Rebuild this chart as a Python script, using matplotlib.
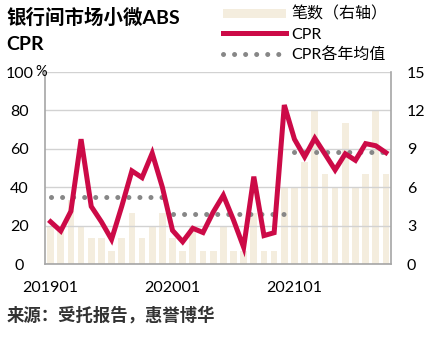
import numpy as np
import matplotlib
matplotlib.use("Agg")
import matplotlib.pyplot as plt
from matplotlib.patches import Patch
from matplotlib.lines import Line2D

plt.rcParams['font.family'] = ['Lato', 'Noto Sans CJK SC', 'DejaVu Sans']

# monthly data 201901 - 202110
months = [f"{y}{m:02d}" for y in (2019, 2020, 2021) for m in range(1, 13)][:34]
deal_counts = [3, 3, 5, 3, 2, 2, 1, 2, 4, 2, 3, 4,
               2, 1, 3, 1, 1, 3, 1, 1, 4, 1, 1, 6,
               6, 8, 12, 7, 6, 11, 6, 7, 12, 7]
cpr = [22, 17.2, 27.5, 65, 30, 22, 12.8, 30, 48.5, 45, 57.7, 40,
       17.5, 11.6, 18.6, 16.4, 27, 35.8, 22.9, 8.7, 45.5, 14.8, 16.3, 82.8,
       65, 55.8, 65.5, 57.3, 49, 57.4, 54, 62.7, 61.6, 58]
year_avg = [35, 26, 58.1]
year_span = [(0, 11), (12, 23), (24, 33)]
xtick_labels = ['201901', '202001', '202101']

RED = '#CC0A47'
BEIGE = '#F4EDDE'
GRAY_DOT = '#878787'
DOTS = (0, (0.01, 2.2))

fig = plt.figure(figsize=(4.36, 3.39), dpi=100)
ax = fig.add_axes([0.1032, 0.2212, 0.7936, 0.5664])
ax2 = ax.twinx()
ax.set_zorder(ax2.get_zorder() + 1)
ax.patch.set_visible(False)

x = np.arange(len(months))
ax2.bar(x, deal_counts, width=0.66, color=BEIGE, zorder=1)
ax2.set_ylim(0, 15)
ax2.set_yticks([0, 3, 6, 9, 12, 15])

ax.plot(x, cpr, color=RED, lw=3.6, solid_joinstyle='miter', zorder=4)
for avg, (a, b) in zip(year_avg, year_span):
    ax.plot([a, b], [avg, avg], color=GRAY_DOT, lw=3.6,
            linestyle=DOTS, dash_capstyle='round', zorder=3)

ax.set_xlim(-0.55, 33.5)
ax.set_ylim(0, 100)
ax.set_yticks([0, 20, 40, 60, 80, 100])
ax.set_xticks([0, 12, 24])
ax.set_xticklabels(xtick_labels)
ax.grid(axis='y', color='#D2D2D2', lw=1.0, zorder=0)
ax.set_axisbelow(True)

for a in (ax, ax2):
    for s in a.spines.values():
        s.set_visible(False)
for s in ('left', 'bottom', 'right'):
    ax.spines[s].set_visible(True)
    ax.spines[s].set_color('#A6A6A6')
    ax.spines[s].set_linewidth(1.2)

ax.tick_params(axis='y', length=0, labelsize=11.5, pad=18.5)
for t in ax.get_yticklabels():
    t.set_horizontalalignment('center')
ax.tick_params(axis='x', length=0, labelsize=11.5, pad=12)
ax2.tick_params(axis='y', length=0, labelsize=11.5, pad=11.5)

fig.text(0.08, 0.808, '%', fontsize=10.5, ha='left', va='top')

# title
fig.text(0.014, 0.929, '银行间市场小微ABS', fontsize=14, weight='bold', va='baseline')
fig.text(0.014, 0.8525, 'CPR', fontsize=14, weight='bold', va='baseline')

# legend
handles = [Patch(facecolor=BEIGE, edgecolor='none'),
           Line2D([], [], color=RED, lw=3.6),
           Line2D([], [], color=GRAY_DOT, lw=3.6, linestyle=DOTS,
                  dash_capstyle='round')]
labels = ['笔数（右轴）', 'CPR', 'CPR各年均值']
fig.legend(handles, labels, loc='upper left', bbox_to_anchor=(0.505, 0.99),
           frameon=False, fontsize=11.5, handlelength=3.9, handleheight=0.5,
           handletextpad=0.35, labelspacing=0.36, borderpad=0.2, borderaxespad=0)

fig.text(0.014, 0.071, '来源：受托报告，惠誉博华', fontsize=12.5, weight='bold',
         color='#333333', va='center')

fig.savefig('out.png', dpi=100)
